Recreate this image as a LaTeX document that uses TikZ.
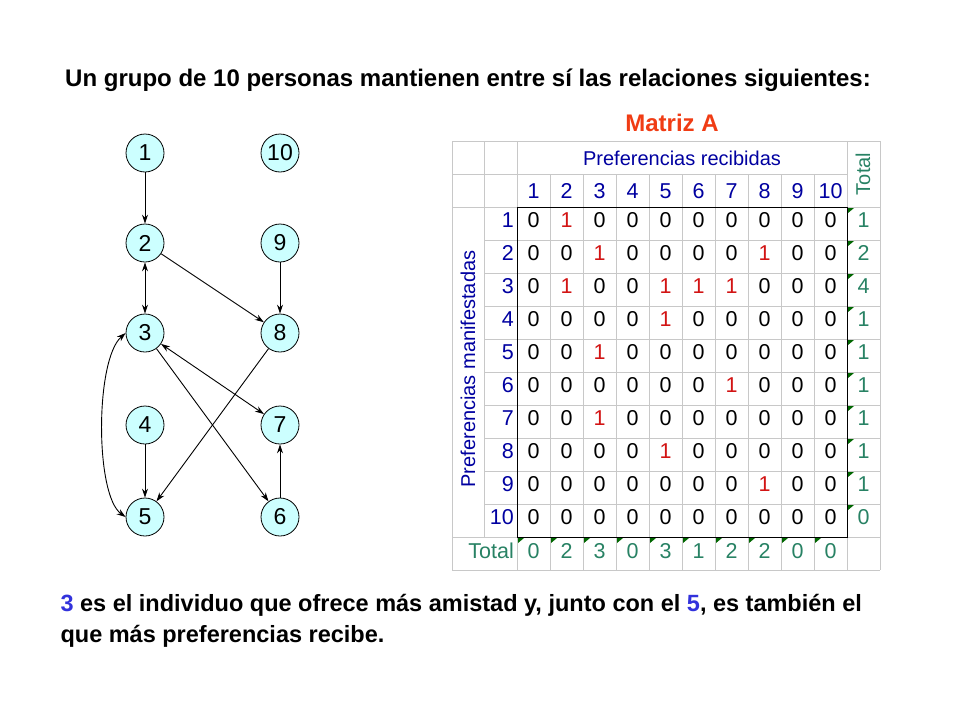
\documentclass[tikz,border=0pt]{standalone}
\usepackage{fontspec}
\setmainfont{Liberation Sans}
\usetikzlibrary{arrows.meta}
\definecolor{nfill}{RGB}{204,255,255}
\definecolor{dblue}{RGB}{0,0,160}
\definecolor{dred}{RGB}{210,20,20}
\definecolor{tgreen}{RGB}{40,130,100}
\definecolor{gridc}{RGB}{200,200,200}
\definecolor{orred}{RGB}{240,60,20}
\definecolor{tblue}{RGB}{50,50,220}
\begin{document}
\begin{tikzpicture}[x=1pt,y=-1pt,
  gnode/.style={circle,draw=black,line width=0.8pt,fill=nfill,minimum size=38pt,inner sep=0pt,font=\fontsize{23}{23}\selectfont},
  arr/.style={-{Stealth[length=9pt,width=6pt]},line width=0.9pt},
  darr/.style={{Stealth[length=9pt,width=6pt]}-{Stealth[length=9pt,width=6pt]},line width=0.9pt},
  cell/.style={font=\fontsize{21.5}{22}\selectfont,inner sep=0pt,text height=0.72em,text depth=0pt},
  tri/.style={fill=green!40!black}]
\useasboundingbox (0,0) rectangle (960,720);
% title
\node[font=\bfseries\fontsize{24}{24}\selectfont] (title) at (468,80) {Un grupo de 10 personas mantienen entre sí las relaciones siguientes:};
\node[font=\bfseries\fontsize{24}{24}\selectfont,text=orred] (mat) at (672,123) {Matriz A};
% graph
\node[gnode] (n1) at (145,153) {1};
\node[gnode] (n2) at (145,243) {2};
\node[gnode] (n3) at (145,333) {3};
\node[gnode] (n4) at (145,425) {4};
\node[gnode] (n5) at (145,517) {5};
\node[gnode] (n10) at (280,153) {10};
\node[gnode] (n9) at (280,243) {9};
\node[gnode] (n8) at (280,333) {8};
\node[gnode] (n7) at (280,425) {7};
\node[gnode] (n6) at (280,517) {6};
\draw[arr] (n1) -- (n2);
\draw[darr] (n2) -- (n3);
\draw[arr] (n2) -- (n8);
\draw[arr] (n9) -- (n8);
\draw[darr] (n3) -- (n7);
\draw[arr] (n3) -- (n6);
\draw[arr] (n8) -- (n5);
\draw[arr] (n4) -- (n5);
\draw[arr] (n6) -- (n7);
\draw[darr] (n3.west) .. controls (95,360) and (95,495) .. (n5.west);
% table grid
\begin{scope}[draw=gridc,line width=0.6pt]
\draw (452,141) -- (452,570);
\draw (484,141) -- (484,537);
\foreach \i in {0,...,10} \draw (517+33*\i,174) -- (517+33*\i,570);
\draw (517,141) -- (517,174);
\draw (847,141) -- (847,570);
\draw (880,141) -- (880,570);
\draw (452,141) -- (880,141);
\draw (452,174) -- (847,174);
\draw (452,207) -- (880,207);
\foreach \j in {1,...,10} \draw (484,207+33*\j) -- (880,207+33*\j);
\draw (452,537) -- (880,537);
\draw (452,570) -- (880,570);
\end{scope}
\draw[line width=0.9pt] (517,207) rectangle (847,537);
\node[font=\fontsize{20}{20}\selectfont,text=dblue] (pr) at (682,158) {Preferencias recibidas};
\node[font=\fontsize{20}{20}\selectfont,text=dblue,rotate=90] (pm) at (468,369) {Preferencias manifestadas};
\node[font=\fontsize{20}{20}\selectfont,text=tgreen,rotate=90] (tt) at (863,174) {Total};
\node[cell,text=tgreen,anchor=east] (tr) at (514,555) {Total};
\foreach \i in {1,...,10} {
  \node[cell,text=dblue] (ch\i) at (500.5+33*\i,195) {\i};
  \node[cell,text=dblue,anchor=east] (rh\i) at (514,190.5+33*\i) {\i};
}
\foreach \row/\vals/\tot [count=\r] in {
  1/{0,1,0,0,0,0,0,0,0,0}/1,
  2/{0,0,1,0,0,0,0,1,0,0}/2,
  3/{0,1,0,0,1,1,1,0,0,0}/4,
  4/{0,0,0,0,1,0,0,0,0,0}/1,
  5/{0,0,1,0,0,0,0,0,0,0}/1,
  6/{0,0,0,0,0,0,1,0,0,0}/1,
  7/{0,0,1,0,0,0,0,0,0,0}/1,
  8/{0,0,0,0,1,0,0,0,0,0}/1,
  9/{0,0,0,0,0,0,0,1,0,0}/1,
  10/{0,0,0,0,0,0,0,0,0,0}/0} {
  \foreach \v [count=\c] in \vals {
    \ifnum\v=1
      \node[cell,text=dred] (m\r-\c) at (500.5+33*\c,190.5+33*\r) {\v};
    \else
      \node[cell] (m\r-\c) at (500.5+33*\c,190.5+33*\r) {\v};
    \fi
  }
  \node[cell,text=tgreen] (rt\r) at (863.5,190.5+33*\r) {\tot};
  \fill[tri] (848,208+33*\r-33) -- (854,208+33*\r-33) -- (848,213+33*\r-33) -- cycle;
}
\foreach \v [count=\c] in {0,2,3,0,3,1,2,2,0,0} {
  \node[cell,text=tgreen] (ct\c) at (500.5+33*\c,555) {\v};
  \fill[tri] (485+33*\c,538) -- (491+33*\c,538) -- (485+33*\c,543) -- cycle;
}
% bottom text
\node[font=\bfseries\fontsize{23.5}{24}\selectfont,anchor=west] (b1) at (57,605) {\textcolor{tblue}{3} es el individuo que ofrece más amistad y, junto con el \textcolor{tblue}{5}, es también el};
\node[font=\bfseries\fontsize{23.5}{24}\selectfont,anchor=west] (b2) at (57,636) {que más preferencias recibe.};
\end{tikzpicture}
\end{document}
